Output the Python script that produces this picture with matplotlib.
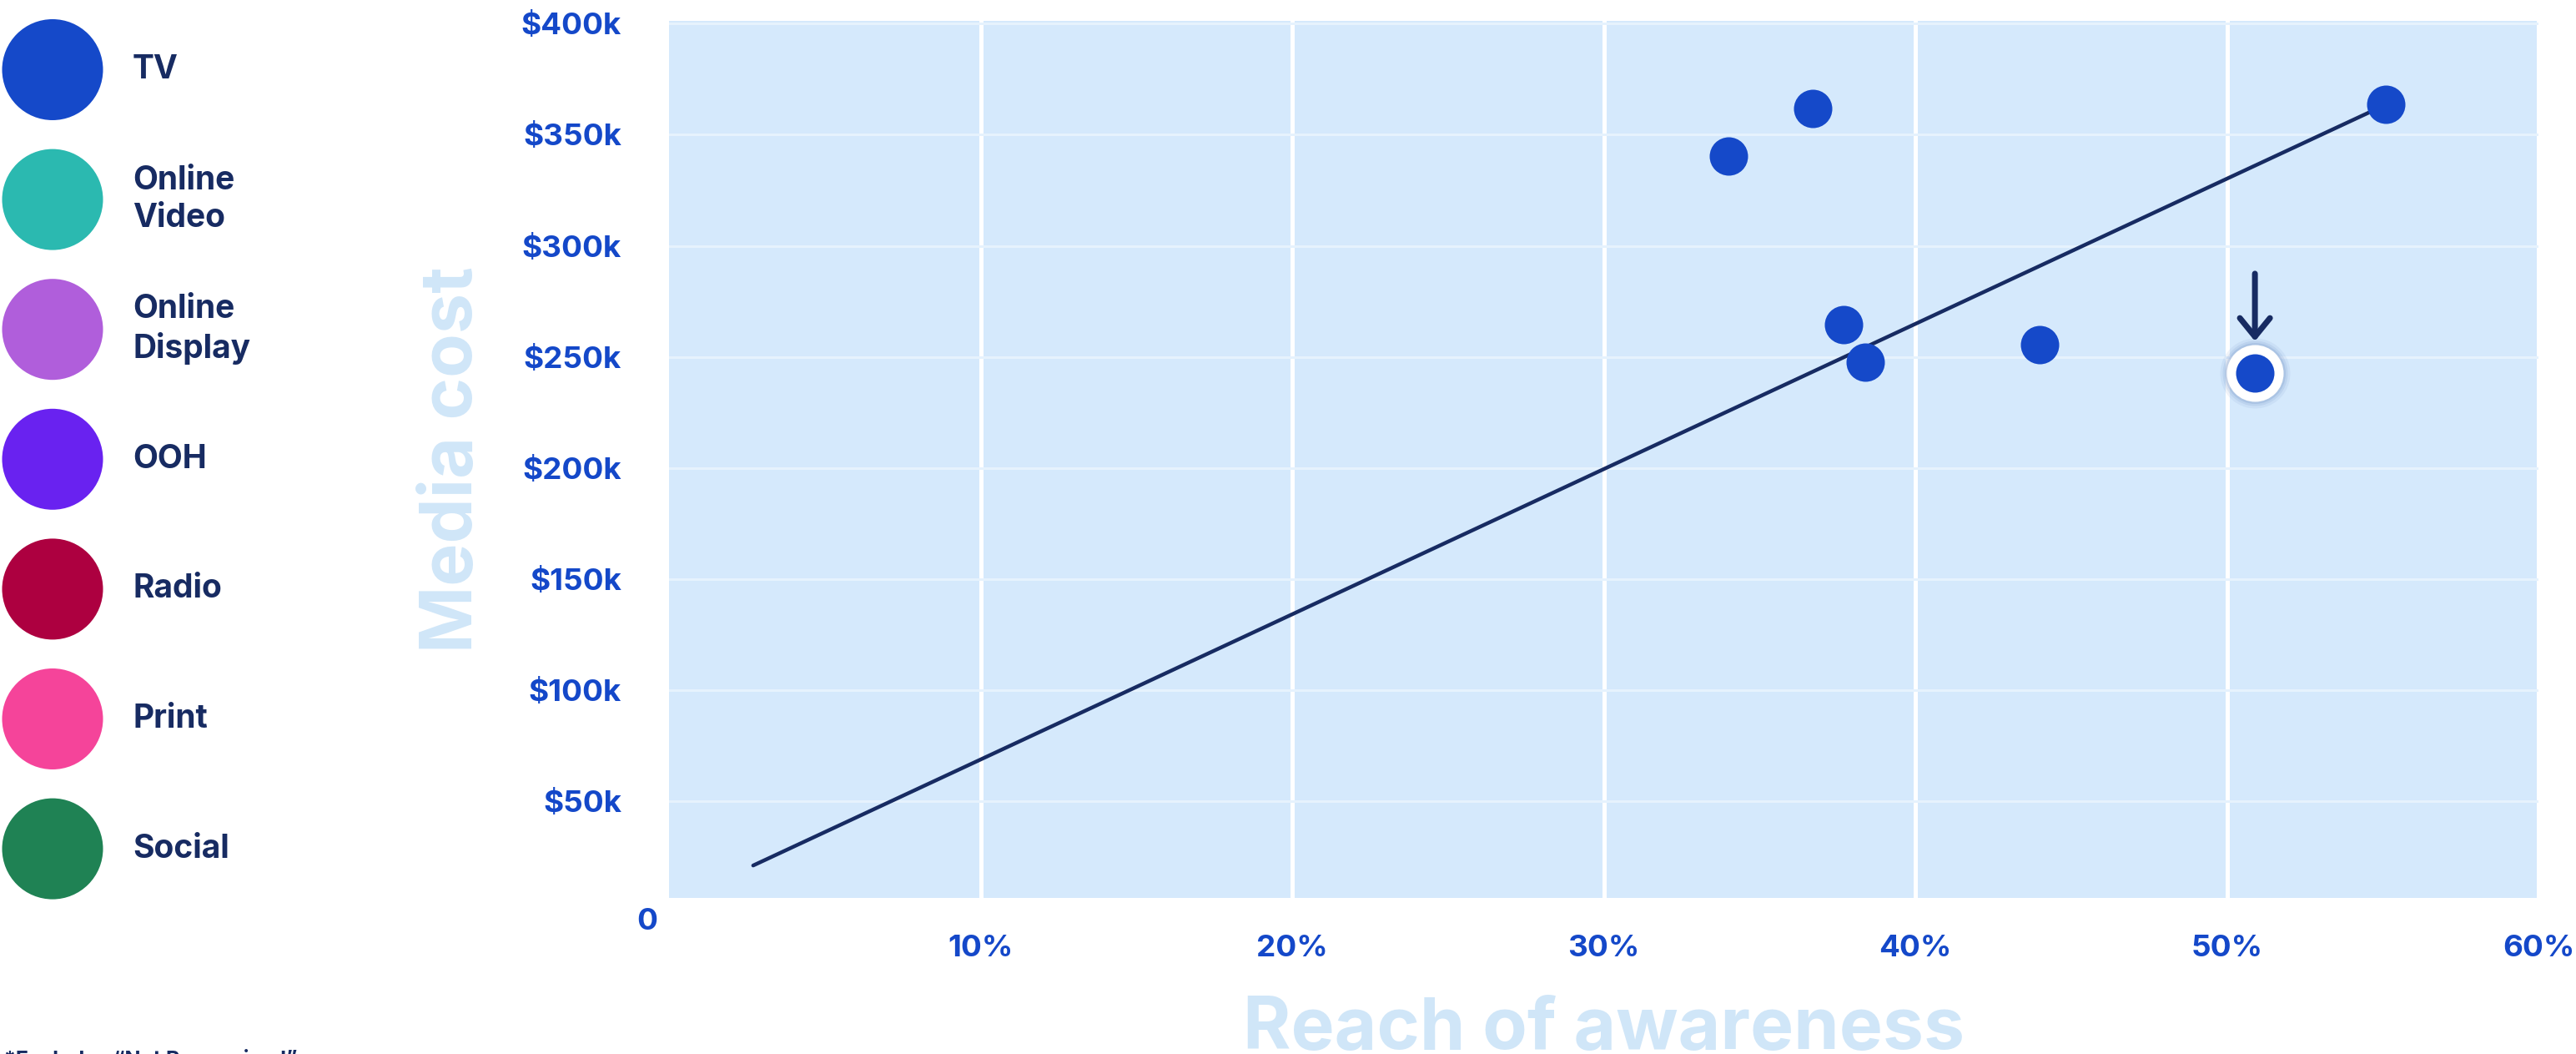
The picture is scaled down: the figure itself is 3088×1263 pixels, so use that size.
import matplotlib
matplotlib.use("Agg")
import matplotlib.pyplot as plt

# ---------------- data ----------------
channels = ["TV", "Online\nVideo", "Online\nDisplay", "OOH", "Radio", "Print", "Social"]
channel_colors = ["#1549c9", "#2bb9b0", "#b05edb", "#6922f0", "#ad0040", "#f5449a", "#1f8254"]

reach_pct = [34.0, 36.7, 55.1, 37.7, 38.4, 44.0, 50.9]          # TV campaigns
cost_k = [340.3, 361.6, 363.5, 264.5, 247.7, 255.5, 242.8]        # $k
highlight_index = 6

trend_reach = [2.7, 55.1]
trend_cost = [21.2, 363.5]

x_ticks = [10, 20, 30, 40, 50, 60]
x_tick_labels = ["10%", "20%", "30%", "40%", "50%", "60%"]
y_ticks = [50, 100, 150, 200, 250, 300, 350, 400]
y_tick_labels = ["$50k", "$100k", "$150k", "$200k", "$250k", "$300k", "$350k", "$400k"]
origin_label = "0"

x_title = "Reach of awareness"
y_title = "Media cost"
footnote = "*Excludes \u201cNot Recognised\u201d"

# ---------------- style ----------------
FONT = ["Inter", "DejaVu Sans"]
NAVY = "#172b62"
TICK_BLUE = "#1448c9"
PLOT_BG = "#d5e9fc"
TITLE_BLUE = "#d0e6f8"

W, H = 3088, 1263
DPI = 100
fig = plt.figure(figsize=(W / DPI, H / DPI), dpi=DPI)
fig.patch.set_facecolor("white")

def px_to_pt(p):
    return p * 72.0 / DPI

# main axes
ax_l, ax_r, ax_t, ax_b = 802, 3043, 25, 1076
ax = fig.add_axes([ax_l / W, 1 - ax_b / H, (ax_r - ax_l) / W, (ax_b - ax_t) / H])
ax.set_facecolor(PLOT_BG)
for s in ax.spines.values():
    s.set_visible(False)
ax.set_xlim(0, 60)
ax.set_ylim(6.6, 401.2)

ax.set_xticks(x_ticks)
ax.set_xticklabels(x_tick_labels)
ax.set_yticks(y_ticks)
ax.set_yticklabels(y_tick_labels)
ax.tick_params(axis="both", length=0, labelcolor=TICK_BLUE, labelsize=26.5)
ax.tick_params(axis="y", pad=px_to_pt(57))
ax.tick_params(axis="x", pad=px_to_pt(44))
for lab in ax.get_xticklabels() + ax.get_yticklabels():
    lab.set_fontfamily(FONT)
    lab.set_fontweight("bold")

ax.set_axisbelow(True)
ax.xaxis.grid(True, color="white", linewidth=px_to_pt(5))
ax.yaxis.grid(True, color="#e6f2fd", linewidth=px_to_pt(3))

# origin label
ax.annotate(origin_label, xy=(0, 0), xycoords="axes fraction",
            xytext=(px_to_pt(-26), px_to_pt(-28)), textcoords="offset points",
            ha="center", va="center", fontsize=26.5, fontweight="bold",
            color=TICK_BLUE, family=FONT)

# axis titles
ax.set_xlabel(x_title, fontsize=63, fontweight="bold", color=TITLE_BLUE,
              family=FONT, va="baseline")
ax.xaxis.set_label_coords(0.5, -(1257 - ax_b) / (ax_b - ax_t))
ax.set_ylabel(y_title, fontsize=62, fontweight="bold", color=TITLE_BLUE,
              family=FONT, va="baseline", rotation_mode="anchor")
ax.yaxis.set_label_coords((566 - ax_l) / (ax_r - ax_l), 0.5)

# trend line
ax.plot(trend_reach, trend_cost, color=NAVY, linewidth=px_to_pt(4.5),
        solid_capstyle="round", zorder=2)

# highlighted point: glow + white ring
hx, hy = reach_pct[highlight_index], cost_k[highlight_index]
for d, a in [(84, 0.10), (78, 0.15), (73, 0.22)]:
    ax.scatter([hx], [hy], s=px_to_pt(d) ** 2, color="#6f8fc4", alpha=a,
               linewidths=0, zorder=3)
ax.scatter([hx], [hy], s=px_to_pt(68) ** 2, color="white", linewidths=0, zorder=3.5)

# points
ax.scatter(reach_pct, cost_k, s=px_to_pt(46) ** 2, color=channel_colors[0],
           linewidths=0, zorder=4)

# arrow
ax.annotate("", xy=(hx, hy), xycoords="data",
            xytext=(0, px_to_pt(119)), textcoords="offset points",
            arrowprops=dict(arrowstyle="->, head_length=0.8, head_width=0.65",
                            mutation_scale=20, color=NAVY, lw=px_to_pt(7),
                            shrinkA=0, shrinkB=px_to_pt(38),
                            capstyle="round", joinstyle="round"),
            zorder=5)

# legend (manual)
row_h = 155.6
leg_top = 83.5 - row_h / 2
ax_leg = fig.add_axes([0, 1 - (leg_top + 7 * row_h) / H, 600 / W, 7 * row_h / H])
ax_leg.set_xlim(0, 600)
ax_leg.set_ylim(len(channels) - 0.5, -0.5)
ax_leg.axis("off")
rows = list(range(len(channels)))
ax_leg.scatter([63] * len(channels), rows, s=px_to_pt(121) ** 2,
               color=channel_colors, linewidths=0)
for i, name in enumerate(channels):
    ax_leg.text(159, i, name, ha="left", va="center", fontsize=28,
                fontweight="bold", color=NAVY, family=FONT, linespacing=1.3)

# footnote (mostly cut off at the bottom edge)
fig.text(5 / W, 1 - 1257 / H, footnote, ha="left", va="top", fontsize=18,
         fontweight="bold", color=NAVY, family=FONT)

fig.savefig("out.png", dpi=DPI, facecolor="white")
